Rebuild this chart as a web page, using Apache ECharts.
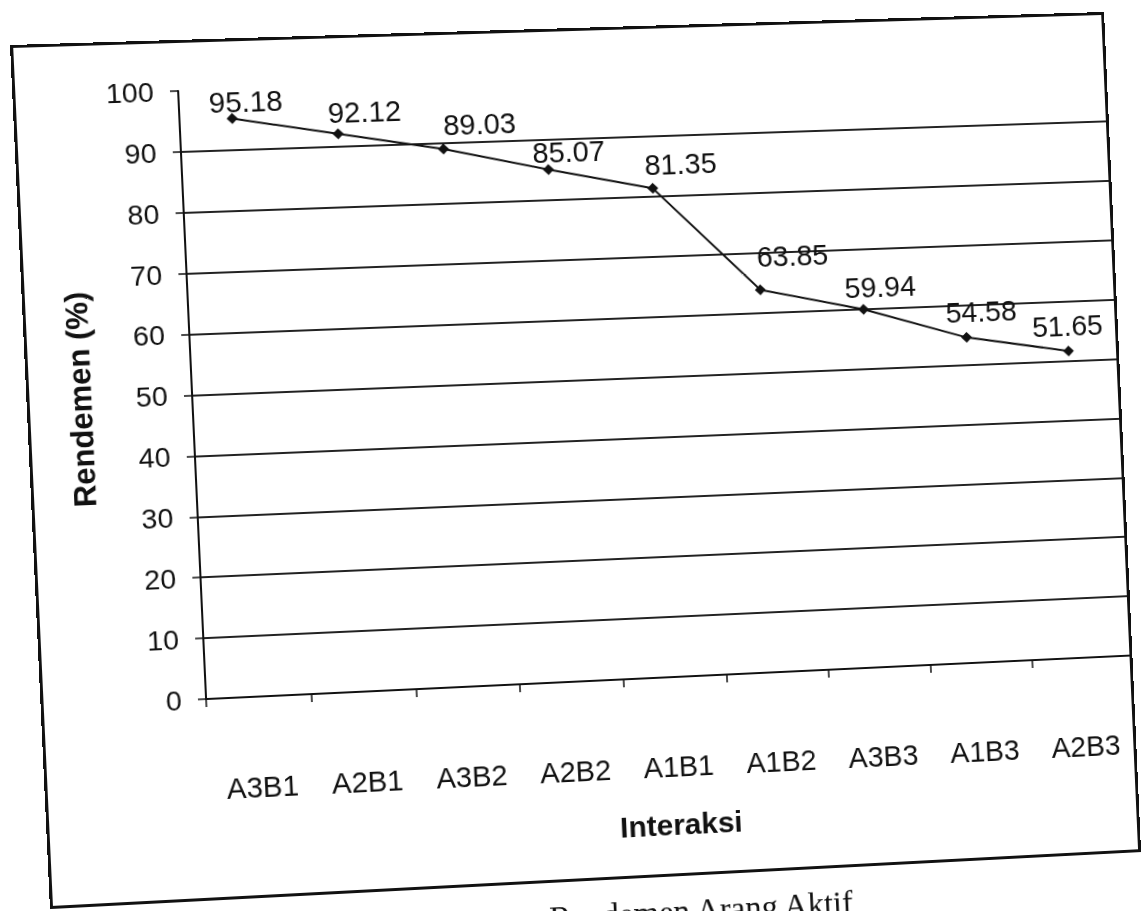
<!DOCTYPE html>
<html>
<head>
<meta charset="utf-8">
<script src="https://cdn.jsdelivr.net/npm/echarts@6/dist/echarts.min.js"></script>
<style>
  html, body { margin: 0; padding: 0; background: #fff; overflow: hidden; width: 1144px; height: 911px; }
  #sheet { position: absolute; left: 0; top: 0; transform-origin: 0 0; }
</style>
</head>
<body>
<div id="sheet"></div>
<script>
// Rendemen per treatment combination
const categories = ['A3B1', 'A2B1', 'A3B2', 'A2B2', 'A1B1', 'A1B2', 'A3B3', 'A1B3', 'A2B3'];
const rendemen = [95.18, 92.12, 89.03, 85.07, 81.35, 63.85, 59.94, 54.58, 51.65];
const yMin = 0;
const yMax = 100;
const yStep = 10;
const xTitle = 'Interaksi';
const yTitle = 'Rendemen (%)';
const caption = 'Rendemen Arang Aktif';

// Hand-placed nudges of the value labels (px right, px down)
const labelShift = [[14, 4], [27, 0], [37, -3], [21, 4], [29, -3], [34, -12], [18, -1], [16, -5], [0, -5]];

// Sheet geometry: the framed chart, plus a strip below it for the caption
const FRAME_W = 1095;
const FRAME_H = 862;
const EXTRA_H = 70;
// Where the frame's corners land on the page (TL, TR, BR, BL): the sheet sits tilted
const frameCorners = [[10, 45], [1104, 12], [1141, 852], [50, 909]];

function quadTransform(W, H, p) {
  const [x0, y0] = p[0], [x1, y1] = p[1], [x2, y2] = p[2], [x3, y3] = p[3];
  const dx1 = x1 - x2, dx2 = x3 - x2, dx3 = x0 - x1 + x2 - x3;
  const dy1 = y1 - y2, dy2 = y3 - y2, dy3 = y0 - y1 + y2 - y3;
  const den = dx1 * dy2 - dx2 * dy1;
  const g = (dx3 * dy2 - dx2 * dy3) / den;
  const h = (dx1 * dy3 - dx3 * dy1) / den;
  const a = x1 - x0 + g * x1, b = x3 - x0 + h * x3, c = x0;
  const d = y1 - y0 + g * y1, e = y3 - y0 + h * y3, f = y0;
  return 'matrix3d(' + [a / W, d / W, 0, g / W, b / H, e / H, 0, h / H, 0, 0, 1, 0, c, f, 0, 1].join(',') + ')';
}

const sheet = document.getElementById('sheet');
sheet.style.width = FRAME_W + 'px';
sheet.style.height = (FRAME_H + EXTRA_H) + 'px';
sheet.style.transform = quadTransform(FRAME_W, FRAME_H, frameCorners);

const SANS = '"Liberation Sans", Arial, sans-serif';
const INK = '#111';
const PLOT_TOP = 51;
const PLOT_ZERO = 660;

const chart = echarts.init(sheet, null, { renderer: 'svg', width: FRAME_W, height: FRAME_H + EXTRA_H });

const seriesData = rendemen.map((v, i) => ({
  value: v,
  label: { offset: labelShift[i] }
}));

chart.setOption({
  animation: false,
  backgroundColor: '#fff',
  grid: {
    left: 162, right: 0, top: PLOT_TOP, bottom: FRAME_H + EXTRA_H - PLOT_ZERO,
    containLabel: false, outerBoundsMode: 'none'
  },
  xAxis: {
    type: 'category',
    data: categories,
    boundaryGap: true,
    axisLine: { show: true, lineStyle: { color: INK, width: 2 } },
    axisTick: { show: true, length: 8, alignWithLabel: false, lineStyle: { color: INK, width: 1.5 } },
    axisLabel: { interval: 0, margin: 76, fontSize: 29, color: INK, fontFamily: SANS },
    splitLine: { show: false },
    name: xTitle,
    nameLocation: 'middle',
    nameGap: 134,
    nameTextStyle: { fontSize: 30, fontWeight: 'bold', color: INK, fontFamily: SANS }
  },
  yAxis: {
    type: 'value',
    min: yMin, max: yMax, interval: yStep,
    axisLine: { show: true, lineStyle: { color: INK, width: 2 } },
    axisTick: { show: true, inside: false, length: 8, lineStyle: { color: INK, width: 1.5 } },
    axisLabel: { margin: 24, fontSize: 28, color: INK, fontFamily: SANS },
    splitLine: { show: true, showMaxLine: false, lineStyle: { color: '#222', width: 2 } },
    name: yTitle,
    nameLocation: 'middle',
    nameGap: 94,
    nameRotate: 90,
    nameTextStyle: { fontSize: 31, fontWeight: 'bold', color: INK, fontFamily: SANS }
  },
  series: [{
    type: 'line',
    data: seriesData,
    symbol: 'diamond',
    symbolSize: 11,
    showAllSymbol: true,
    itemStyle: { color: INK },
    lineStyle: { color: INK, width: 2 },
    label: {
      show: true,
      position: 'top',
      distance: 1,
      fontSize: 29,
      color: INK,
      fontFamily: SANS,
      formatter: p => p.value.toFixed(2)
    }
  }],
  graphic: [
    {
      type: 'rect',
      silent: true,
      z: 100,
      shape: { x: 1.5, y: 1.5, width: FRAME_W - 3, height: FRAME_H - 3 },
      style: { fill: 'none', stroke: INK, lineWidth: 3 }
    },
    {
      type: 'text',
      silent: true,
      x: 645,
      y: FRAME_H + 36,
      style: {
        text: caption,
        font: '33px "Liberation Serif", "Times New Roman", serif',
        fill: INK,
        textAlign: 'center',
        textVerticalAlign: 'middle'
      }
    }
  ]
});
</script>
</body>
</html>
